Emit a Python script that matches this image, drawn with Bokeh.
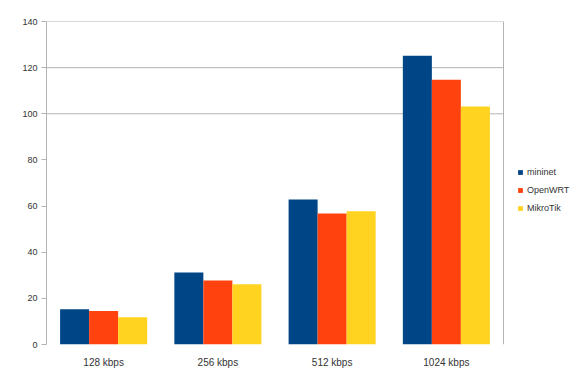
from bokeh.plotting import figure
from bokeh.models import ColumnDataSource, FixedTicker, Legend, LegendItem, Range1d
from bokeh.embed import file_html
from bokeh.resources import INLINE

# Throughput per link speed for each platform
speeds = ["128 kbps", "256 kbps", "512 kbps", "1024 kbps"]
mininet = [15.3, 31.2, 62.9, 125.2]
openwrt = [14.5, 27.7, 56.8, 114.7]
mikrotik = [11.8, 26.1, 57.8, 103.2]
series_names = ["mininet", "OpenWRT", "MikroTik"]
colors = ["#004586", "#ff420e", "#ffd320"]
y_ticks = [0, 20, 40, 60, 80, 100, 120, 140]
grid_levels = [100, 120, 140]

n = len(speeds)
centers = [i + 0.5 for i in range(n)]
source = ColumnDataSource(dict(x=centers, mininet=mininet, openwrt=openwrt, mikrotik=mikrotik))

# the frame spans the category area plus room on the right for the legend
p = figure(
    x_range=Range1d(0, n * 534 / 457),
    y_range=Range1d(0, 140),
    width=580, height=372,
    output_backend="svg", toolbar_location=None,
    min_border_left=46, min_border_right=0, min_border_top=21, min_border_bottom=28,
    background_fill_color="white", border_fill_color="white",
)
p.outline_line_color = None
p.xgrid.grid_line_color = None
p.ygrid.grid_line_color = None

# plot-area border (top / right) and horizontal grid lines
p.segment(x0=0, x1=n, y0=grid_levels, y1=grid_levels, line_color="#b3b3b3", line_width=1)
p.segment(x0=n, x1=n, y0=0, y1=140, line_color="#b3b3b3", line_width=1)

bar_w = 0.254
renderers = []
for off, col, color in zip([-bar_w, 0, bar_w], ["mininet", "openwrt", "mikrotik"], colors):
    xs = [c + off for c in centers]
    src = ColumnDataSource(dict(x=xs, top=source.data[col]))
    r = p.vbar(x="x", top="top", width=bar_w, source=src, fill_color=color, line_color=None)
    renderers.append(r)

# y axis
p.yaxis.ticker = FixedTicker(ticks=y_ticks)
p.yaxis.axis_line_color = "#b3b3b3"
p.yaxis.major_tick_line_color = "#b3b3b3"
p.yaxis.major_tick_out = 5
p.yaxis.major_tick_in = 0
p.yaxis.minor_tick_line_color = None
p.yaxis.major_label_text_font = "Liberation Sans"
p.yaxis.major_label_text_font_size = "9px"
p.yaxis.major_label_text_color = "#333333"
p.yaxis.major_label_standoff = 4

# x axis with category names at the group centres
p.xaxis.ticker = FixedTicker(ticks=centers)
p.xaxis.major_label_overrides = {c: s for c, s in zip(centers, speeds)}
p.xaxis.axis_line_color = None
p.xaxis.major_tick_line_color = None
p.xaxis.minor_tick_line_color = None
p.xaxis.major_label_text_font = "Liberation Sans"
p.xaxis.major_label_text_font_size = "10px"
p.xaxis.major_label_text_color = "#333333"
p.xaxis.major_label_standoff = 6

legend = Legend(
    items=[LegendItem(label=nm, renderers=[r]) for nm, r in zip(series_names, renderers)],
    location=(471, 131),
    orientation="vertical",
    glyph_width=6, glyph_height=6,
    label_text_font="Liberation Sans", label_text_font_size="9px",
    label_text_color="#333333", label_height=10,
    label_standoff=4, spacing=8, padding=0, margin=0,
    background_fill_alpha=0, border_line_color=None,
)
p.add_layout(legend, "center")

open("out.html", "w").write(file_html(p, INLINE))
